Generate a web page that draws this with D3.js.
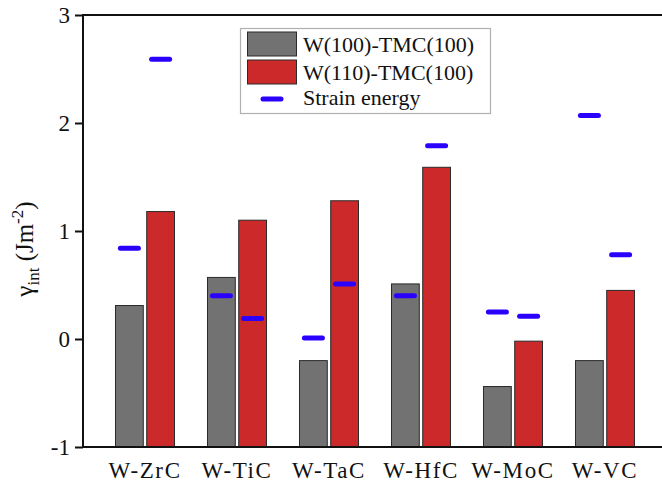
<!DOCTYPE html>
<html>
<head>
<meta charset="utf-8">
<script src="https://cdn.jsdelivr.net/npm/d3@7"></script>
<style>
html,body{margin:0;padding:0;background:#fff;}
svg{display:block;}
text{font-family:"Liberation Serif","Times New Roman",serif;fill:#111;}
</style>
</head>
<body>
<svg id="chart" width="662" height="488"></svg>
<script>
const categories = ["W-ZrC","W-TiC","W-TaC","W-HfC","W-MoC","W-VC"];
const w100 = [0.31,0.57,-0.20,0.51,-0.44,-0.20];
const w110 = [1.18,1.10,1.28,1.59,-0.02,0.45];
const strain100 = [0.84,0.40,0.01,0.40,0.25,2.07];
const strain110 = [2.59,0.19,0.51,1.79,0.21,0.78];
const yTicks = [-1,0,1,2,3];
const seriesNames = ["W(100)-TMC(100)","W(110)-TMC(100)"];
const strainName = "Strain energy";

const colors = {gray:"#727272", red:"#cc2a2a", blue:"#2a00ff"};

const svg = d3.select("#chart");
const mLeft = 83, mRight = 662, mTop = 15, mBottom = 447;

const x = d3.scaleBand().domain(categories).range([99, 651]).paddingInner(0).paddingOuter(0);
const xs = d3.scaleBand().domain([0,1]).range([-29.5, 29.5]).paddingInner(0.11);
const y = d3.scaleLinear().domain([-1,3]).range([mBottom, mTop]);

// bars
const seriesData = [w100, w110];
const fills = [colors.gray, colors.red];
seriesData.forEach((arr, si) => {
  svg.append("g").selectAll("rect").data(arr).join("rect")
    .attr("x", (d,i) => x(categories[i]) + x.bandwidth()/2 + xs(si))
    .attr("width", xs.bandwidth())
    .attr("y", d => y(d))
    .attr("height", d => y(-1) - y(d))
    .attr("fill", fills[si])
    .attr("stroke", "#2a2a2a")
    .attr("stroke-width", 1);
});

// strain energy markers
[strain100, strain110].forEach((arr, si) => {
  svg.append("g").selectAll("line").data(arr).join("line")
    .attr("x1", (d,i) => x(categories[i]) + x.bandwidth()/2 + xs(si) + xs.bandwidth()/2 - 9)
    .attr("x2", (d,i) => x(categories[i]) + x.bandwidth()/2 + xs(si) + xs.bandwidth()/2 + 9)
    .attr("y1", d => y(d)).attr("y2", d => y(d))
    .attr("stroke", colors.blue).attr("stroke-width", 5).attr("stroke-linecap", "round");
});

// axes
const yAxis = d3.axisLeft(y).tickValues(yTicks).tickSize(8).tickPadding(5).tickFormat(d => String(d));
const gy = svg.append("g").attr("transform", `translate(${mLeft},0)`).call(yAxis);
gy.select(".domain").remove();
gy.selectAll(".tick line").attr("stroke", "#111").attr("stroke-width", 2);
gy.selectAll(".tick text").attr("font-size", 23).attr("fill", "#111").attr("dy", "0.34em");

svg.append("line").attr("x1", mLeft).attr("x2", mLeft).attr("y1", mTop-1).attr("y2", mBottom+1).attr("stroke","#111").attr("stroke-width",2);
svg.append("line").attr("x1", mLeft).attr("x2", mRight).attr("y1", mTop).attr("y2", mTop).attr("stroke","#111").attr("stroke-width",2);
svg.append("line").attr("x1", mLeft).attr("x2", mRight).attr("y1", mBottom).attr("y2", mBottom).attr("stroke","#111").attr("stroke-width",2);

// category labels
const xAxis = d3.axisBottom(x).tickSize(0).tickPadding(0);
const gx = svg.append("g").attr("transform", `translate(0,${mBottom})`).call(xAxis);
gx.select(".domain").remove();
gx.selectAll(".tick text").attr("font-size", 23).attr("fill", "#111")
  .attr("letter-spacing", "1.6px").attr("y", 31).attr("dy", 0);

// y label
const yl = svg.append("text").attr("transform", "translate(33,249) rotate(-90)")
  .attr("text-anchor", "middle").attr("font-size", 25);
yl.append("tspan").text("γ");
yl.append("tspan").attr("font-size", 17).attr("dy", 6).text("int");
yl.append("tspan").attr("dy", -6).text(" (Jm");
yl.append("tspan").attr("font-size", 17).attr("dy", -10).text("-2");
yl.append("tspan").attr("dy", 10).text(")");

// legend
const lg = svg.append("g");
lg.append("rect").attr("x", 240.5).attr("y", 28.5).attr("width", 250).attr("height", 85)
  .attr("fill", "#fff").attr("stroke", "#b0b0b0").attr("stroke-width", 1.2);
const rows = [
  {name: seriesNames[0], fill: colors.gray, yy: 32},
  {name: seriesNames[1], fill: colors.red, yy: 60}
];
rows.forEach(r => {
  lg.append("rect").attr("x", 247.5).attr("y", r.yy).attr("width", 49).attr("height", 24)
    .attr("fill", r.fill).attr("stroke", "#2a2a2a").attr("stroke-width", 1);
  lg.append("text").attr("x", 303).attr("y", r.yy + 20).attr("font-size", 22).text(r.name);
});
lg.append("line").attr("x1", 263).attr("x2", 281).attr("y1", 99).attr("y2", 99)
  .attr("stroke", colors.blue).attr("stroke-width", 5).attr("stroke-linecap", "round");
lg.append("text").attr("x", 303).attr("y", 105).attr("font-size", 22).text(strainName);
</script>
</body>
</html>
